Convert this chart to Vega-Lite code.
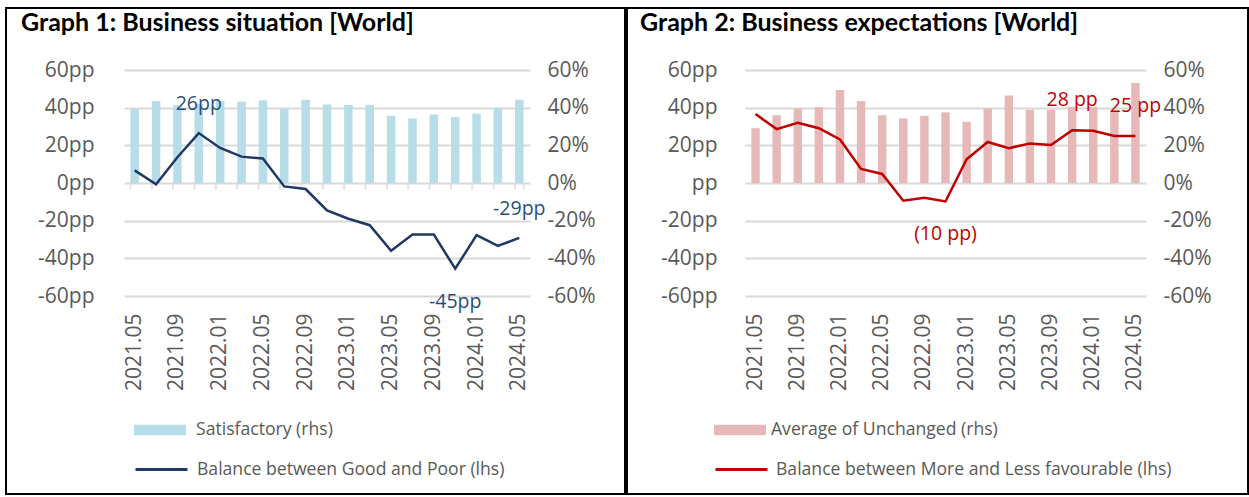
{
  "$schema": "https://vega.github.io/schema/vega-lite/v6.json",
  "padding": {"left": 5, "top": 7, "right": 0, "bottom": 0},
  "background": "white",
  "spacing": 0,
  "config": {
    "view": {"stroke": "black", "strokeWidth": 2},
    "font": "Open Sans",
    "axis": {"labelFont": "Open Sans", "labelFontSize": 21, "labelColor": "#595959", "title": null, "ticks": false, "domain": false, "labelPadding": 0},
    "legend": {"labelFont": "Open Sans", "labelFontSize": 17.6, "labelColor": "#595959", "padding": 0, "offset": 0, "title": null, "labelLimit": 500}
  },
  "datasets": {
    "g1": [
      {"date": "2021.05", "sat": 39.4, "bal": 6.7, "label": ""},
      {"date": "2021.07", "sat": 43.5, "bal": -0.7, "label": ""},
      {"date": "2021.09", "sat": 41.3, "bal": 13.7, "label": ""},
      {"date": "2021.11", "sat": 42.0, "bal": 26.5, "label": "26pp"},
      {"date": "2022.01", "sat": 43.5, "bal": 18.6, "label": ""},
      {"date": "2022.03", "sat": 43.2, "bal": 14.0, "label": ""},
      {"date": "2022.05", "sat": 44.0, "bal": 13.0, "label": ""},
      {"date": "2022.07", "sat": 39.4, "bal": -1.8, "label": ""},
      {"date": "2022.09", "sat": 44.2, "bal": -3.2, "label": ""},
      {"date": "2022.11", "sat": 41.7, "bal": -14.6, "label": ""},
      {"date": "2023.01", "sat": 41.4, "bal": -19.0, "label": ""},
      {"date": "2023.03", "sat": 41.4, "bal": -22.4, "label": ""},
      {"date": "2023.05", "sat": 35.7, "bal": -36.0, "label": ""},
      {"date": "2023.07", "sat": 34.3, "bal": -27.4, "label": ""},
      {"date": "2023.09", "sat": 36.4, "bal": -27.4, "label": ""},
      {"date": "2023.11", "sat": 35.0, "bal": -45.5, "label": "-45pp"},
      {"date": "2024.01", "sat": 36.8, "bal": -27.7, "label": ""},
      {"date": "2024.03", "sat": 40.0, "bal": -33.4, "label": ""},
      {"date": "2024.05", "sat": 44.2, "bal": -29.1, "label": "-29pp"}
    ],
    "g2": [
      {"date": "2021.05", "unch": 29.1, "bal": 36.6, "label": ""},
      {"date": "2021.07", "unch": 36.0, "bal": 28.6, "label": ""},
      {"date": "2021.09", "unch": 39.6, "bal": 32.0, "label": ""},
      {"date": "2021.11", "unch": 40.3, "bal": 29.1, "label": ""},
      {"date": "2022.01", "unch": 49.4, "bal": 23.1, "label": ""},
      {"date": "2022.03", "unch": 43.5, "bal": 7.5, "label": ""},
      {"date": "2022.05", "unch": 36.0, "bal": 4.8, "label": ""},
      {"date": "2022.07", "unch": 34.3, "bal": -9.4, "label": ""},
      {"date": "2022.09", "unch": 35.7, "bal": -7.8, "label": ""},
      {"date": "2022.11", "unch": 37.5, "bal": -9.8, "label": "(10 pp)"},
      {"date": "2023.01", "unch": 32.5, "bal": 12.6, "label": ""},
      {"date": "2023.03", "unch": 39.6, "bal": 21.8, "label": ""},
      {"date": "2023.05", "unch": 46.4, "bal": 18.5, "label": ""},
      {"date": "2023.07", "unch": 38.9, "bal": 21.0, "label": ""},
      {"date": "2023.09", "unch": 38.9, "bal": 20.2, "label": ""},
      {"date": "2023.11", "unch": 40.5, "bal": 28.0, "label": "28 pp"},
      {"date": "2024.01", "unch": 40.5, "bal": 27.7, "label": ""},
      {"date": "2024.03", "unch": 38.2, "bal": 25.0, "label": ""},
      {"date": "2024.05", "unch": 53.1, "bal": 24.9, "label": "25 pp"}
    ]
  },
  "hconcat": [
    {
      "width": 619,
      "height": 486,
      "data": {"name": "g1"},
      "title": {"text": "Graph 1: Business situation [World]", "anchor": "start", "frame": "group", "offset": -28, "dx": 15, "fontSize": 25, "fontWeight": "bold", "font": "Lato", "color": "black"},
      "layer": [
        {
          "mark": {"type": "bar", "color": "#B7DEE8"},
          "encoding": {
            "x": {"field": "date", "type": "ordinal", "sort": null, "scale": {"range": [118, 524], "paddingInner": 0.6, "paddingOuter": 0.3},
              "axis": {"values": ["2021.05", "2021.09", "2022.01", "2022.05", "2022.09", "2023.01", "2023.05", "2023.09", "2024.01", "2024.05"], "labelAngle": -90, "offset": -181, "grid": false}},
            "y": {"field": "sat", "type": "quantitative", "scale": {"domain": [-60, 60], "range": [288, 62], "nice": false, "zero": true},
              "axis": {"orient": "right", "values": [-60, -40, -20, 0, 20, 40, 60], "labelExpr": "datum.value + '%'", "offset": -78, "grid": false, "labelAlign": "left"}},
            "color": {"datum": "Satisfactory (rhs)", "scale": {"range": ["#B7DEE8"]},
              "legend": {"orient": "none", "legendX": 128, "legendY": 396, "symbolType": "M-1,-0.2L1,-0.2L1,0.2L-1,0.2Z", "symbolSize": 2704, "symbolStrokeWidth": 0, "labelOffset": 10}}
          }
        },
        {
          "encoding": {
            "x": {"field": "date", "type": "ordinal", "sort": null},
            "y": {"field": "bal", "type": "quantitative", "scale": {"domain": [-60, 60], "range": [288, 62], "nice": false}}
          },
          "layer": [
            {
              "mark": {"type": "tick", "orient": "vertical", "size": 7, "thickness": 2, "color": "#D9D9D9", "yOffset": 3.5},
              "encoding": {"x": {"field": "date", "type": "ordinal", "sort": null, "bandPosition": 0}, "y": {"datum": 0}}
            },
            {
              "transform": [{"filter": "datum.date == '2024.05'"}],
              "mark": {"type": "tick", "orient": "vertical", "size": 7, "thickness": 2, "color": "#D9D9D9", "yOffset": 3.5},
              "encoding": {"x": {"field": "date", "type": "ordinal", "sort": null, "bandPosition": 1}, "y": {"datum": 0}}
            },
            {
              "mark": {"type": "line", "color": "#1F3864", "strokeWidth": 2.5},
              "encoding": {
                "y": {"field": "bal", "type": "quantitative",
                  "axis": {"orient": "left", "values": [-60, -40, -20, 0, 20, 40, 60], "labelExpr": "datum.value + 'pp'", "offset": -88, "grid": true, "gridColor": "#D9D9D9", "gridWidth": 2}},
                "stroke": {"datum": "Balance between Good and Poor (lhs)", "scale": {"range": ["#1F3864"]},
                  "legend": {"orient": "none", "legendX": 128, "legendY": 434, "symbolSize": 2704, "symbolStrokeWidth": 3, "labelOffset": 8}}
              }
            },
            {
              "transform": [{"filter": "datum.date == '2021.11' || datum.date == '2024.05'"}],
              "mark": {"type": "text", "dy": -29, "fontSize": 19.5, "color": "#2A4E7C", "font": "Open Sans"},
              "encoding": {"text": {"field": "label"}}
            },
            {
              "transform": [{"filter": "datum.date == '2023.11'"}],
              "mark": {"type": "text", "dy": 33, "fontSize": 19.5, "color": "#2A4E7C", "font": "Open Sans"},
              "encoding": {"text": {"field": "label"}}
            }
          ]
        }
      ],
      "resolve": {"scale": {"y": "independent"}}
    },
    {
      "width": 621,
      "height": 486,
      "data": {"name": "g2"},
      "title": {"text": "Graph 2: Business expectations [World]", "anchor": "start", "frame": "group", "offset": -28, "dx": 13, "fontSize": 25, "fontWeight": "bold", "font": "Lato", "color": "black"},
      "layer": [
        {
          "mark": {"type": "bar", "color": "#E6B9B8"},
          "encoding": {
            "x": {"field": "date", "type": "ordinal", "sort": null, "scale": {"range": [118, 519], "paddingInner": 0.6, "paddingOuter": 0.3},
              "axis": {"values": ["2021.05", "2021.09", "2022.01", "2022.05", "2022.09", "2023.01", "2023.05", "2023.09", "2024.01", "2024.05"], "labelAngle": -90, "offset": -181, "grid": false}},
            "y": {"field": "unch", "type": "quantitative", "scale": {"domain": [-60, 60], "range": [288, 62], "nice": false, "zero": true},
              "axis": {"orient": "right", "values": [-60, -40, -20, 0, 20, 40, 60], "labelExpr": "datum.value + '%'", "offset": -85, "grid": false, "labelAlign": "left"}},
            "color": {"datum": "Average of Unchanged (rhs)", "scale": {"range": ["#E6B9B8"]},
              "legend": {"orient": "none", "legendX": 87, "legendY": 396, "symbolType": "M-1,-0.2L1,-0.2L1,0.2L-1,0.2Z", "symbolSize": 2704, "symbolStrokeWidth": 0, "labelOffset": 5}}
          }
        },
        {
          "encoding": {
            "x": {"field": "date", "type": "ordinal", "sort": null},
            "y": {"field": "bal", "type": "quantitative", "scale": {"domain": [-60, 60], "range": [288, 62], "nice": false}}
          },
          "layer": [
            {
              "mark": {"type": "line", "color": "#C00000", "strokeWidth": 2.5},
              "encoding": {
                "y": {"field": "bal", "type": "quantitative",
                  "axis": {"orient": "left", "values": [-60, -40, -20, 0, 20, 40, 60], "labelExpr": "datum.value == 0 ? 'pp' : datum.value + 'pp'", "offset": -90, "grid": true, "gridColor": "#D9D9D9", "gridWidth": 2}},
                "stroke": {"datum": "Balance between More and Less favourable (lhs)", "scale": {"range": ["#C00000"]},
                  "legend": {"orient": "none", "legendX": 87, "legendY": 434, "symbolSize": 2704, "symbolStrokeWidth": 3, "labelOffset": 7}}
              }
            },
            {
              "transform": [{"filter": "datum.date == '2023.11' || datum.date == '2024.05'"}],
              "mark": {"type": "text", "dy": -30, "fontSize": 19.5, "color": "#C00000", "font": "Open Sans"},
              "encoding": {"text": {"field": "label"}}
            },
            {
              "transform": [{"filter": "datum.date == '2022.11'"}],
              "mark": {"type": "text", "dy": 33, "fontSize": 19.5, "color": "#C00000", "font": "Open Sans"},
              "encoding": {"text": {"field": "label"}}
            }
          ]
        }
      ],
      "resolve": {"scale": {"y": "independent"}}
    }
  ],
  "resolve": {"scale": {"color": "independent", "stroke": "independent"}, "legend": {"color": "independent", "stroke": "independent"}}
}
